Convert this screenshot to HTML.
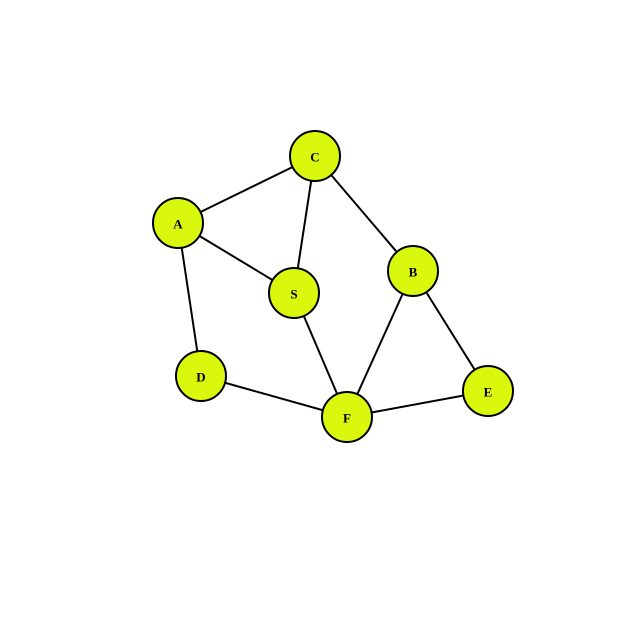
<!DOCTYPE html>
<html><head><meta charset="utf-8"><style>html,body{margin:0;padding:0;background:#fff}</style></head>
<body>
<svg width="628" height="628" xmlns="http://www.w3.org/2000/svg">
<g stroke="#000" stroke-width="2">
<line x1="178" y1="223" x2="315" y2="156"/>
<line x1="178" y1="223" x2="294" y2="293"/>
<line x1="178" y1="223" x2="201" y2="376"/>
<line x1="315" y1="156" x2="294" y2="293"/>
<line x1="315" y1="156" x2="413" y2="271"/>
<line x1="294" y1="293" x2="347" y2="417"/>
<line x1="413" y1="271" x2="347" y2="417"/>
<line x1="413" y1="271" x2="488" y2="391"/>
<line x1="201" y1="376" x2="347" y2="417"/>
<line x1="347" y1="417" x2="488" y2="391"/>
</g>
<g fill="#d9f80d" stroke="#000" stroke-width="2">
<circle cx="315" cy="156" r="25"/>
<circle cx="178" cy="223" r="25"/>
<circle cx="294" cy="293" r="25"/>
<circle cx="413" cy="271" r="25"/>
<circle cx="201" cy="376" r="25"/>
<circle cx="347" cy="417" r="25"/>
<circle cx="488" cy="391" r="25"/>
</g>
<g font-family="Liberation Serif, serif" font-weight="bold" font-size="13" text-anchor="middle" dominant-baseline="central" fill="#000">
<text x="315" y="157">C</text>
<text x="178" y="224">A</text>
<text x="294" y="294">S</text>
<text x="413" y="272">B</text>
<text x="201" y="377">D</text>
<text x="347" y="418">F</text>
<text x="488" y="392">E</text>
</g>
</svg>
</body></html>
